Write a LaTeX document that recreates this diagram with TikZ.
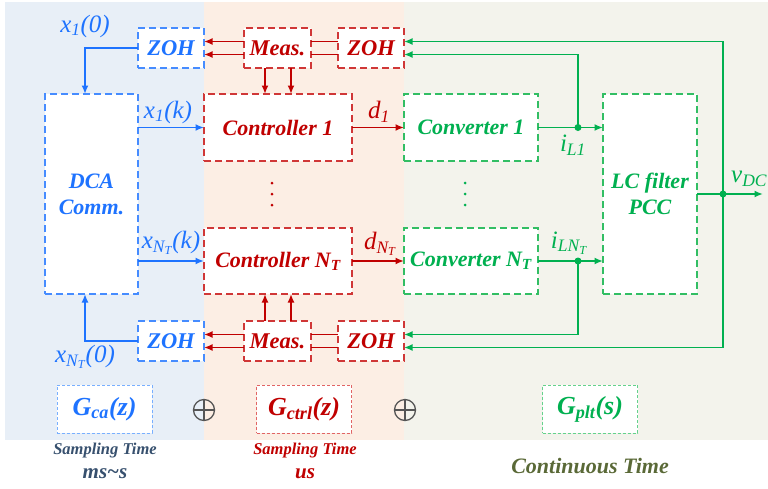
\documentclass[tikz,border=0pt]{standalone}
\usepackage{fontspec}
\setmainfont{Liberation Serif}
\usetikzlibrary{arrows.meta}
\definecolor{cblue}{RGB}{30,115,255}
\definecolor{cbluel}{RGB}{70,140,255}
\definecolor{cbluell}{RGB}{120,175,255}
\definecolor{cred}{RGB}{192,0,0}
\definecolor{credl}{RGB}{208,55,55}
\definecolor{credll}{RGB}{225,100,100}
\definecolor{cgreen}{RGB}{0,176,80}
\definecolor{cgreenl}{RGB}{50,190,100}
\definecolor{cgreenll}{RGB}{100,210,140}
\definecolor{bgblue}{RGB}{232,239,247}
\definecolor{bgred}{RGB}{252,238,228}
\definecolor{bggreen}{RGB}{243,243,236}
\definecolor{cslate}{RGB}{55,80,110}
\definecolor{colive}{RGB}{90,105,55}
\definecolor{cgrey}{RGB}{85,85,85}
\begin{document}
\begin{tikzpicture}[x=1pt,y=-1pt,
  blk/.style={draw, fill=white, dash pattern=on 7pt off 4pt, line width=1.3pt,
    font=\fontsize{22.5}{26}\selectfont\bfseries\itshape, inner sep=0pt, outer sep=0pt, align=center},
  bigtxt/.style={font=\fontsize{22}{26}\selectfont\bfseries\itshape},
  bblk/.style={blk, draw=cbluel, text=cblue},
  rblk/.style={blk, draw=credl, text=cred},
  gblk/.style={blk, draw=cgreenl, text=cgreen},
  leg/.style={draw, fill=white, dash pattern=on 3pt off 2pt, line width=0.8pt,
    minimum width=95pt, minimum height=48pt, inner sep=0pt,
    font=\fontsize{26}{28}\selectfont\bfseries\itshape},
  lbl/.style={font=\fontsize{25}{26}\selectfont\itshape, inner sep=0pt},
  conn/.style={line width=1.9pt},
  arr/.style={conn, -{Latex[length=8.5pt,width=7pt]}},
  barr/.style={arr, draw=cblue},
  rarr/.style={arr, draw=cred},
  rline/.style={conn, draw=cred},
  garr/.style={arr, draw=cgreen},
  zoh/.style={minimum width=66pt, minimum height=40pt},
  capt/.style={font=\fontsize{16.5}{18}\selectfont\bfseries\itshape, inner sep=0pt},
  capb/.style={font=\fontsize{21}{22}\selectfont\bfseries\itshape, inner sep=0pt},
  opl/.style={circle, draw=cgrey, line width=1.3pt, minimum size=21pt, inner sep=0pt, outer sep=0pt},
  oplx/.style={draw=cgrey, line width=1.3pt}
]
\useasboundingbox (0,0) rectangle (768,488);
% backgrounds
\fill[bgblue] (5,2) rectangle (204,440);
\fill[bgred] (204,2) rectangle (404,440);
\fill[bggreen] (404,2) rectangle (768,440);

% blue blocks
\node[bblk, zoh] (zohA) at (171,48) {ZOH};
\node[bblk, bigtxt, minimum width=93pt, minimum height=200pt] (dca) at (91.5,194) {DCA\\Comm.};
\node[bblk, zoh] (zohB) at (171,341) {ZOH};

% red blocks
\node[rblk, minimum width=67pt, minimum height=40pt] (measA) at (277.5,48) {Meas.};
\node[rblk, zoh] (zohC) at (371,48) {ZOH};
\node[rblk, bigtxt, minimum width=148pt, minimum height=67pt] (ctrl1) at (278,127.5) {Controller 1};
\node[rblk, bigtxt, minimum width=148pt, minimum height=66pt] (ctrlN) at (278,261) {Controller N\textsubscript{T}};
\node[rblk, minimum width=67pt, minimum height=40pt] (measB) at (277.5,341) {Meas.};
\node[rblk, zoh] (zohD) at (371,341) {ZOH};

% green blocks
\node[gblk, bigtxt, minimum width=134pt, minimum height=67pt] (conv1) at (471,127.5) {Converter 1};
\node[gblk, bigtxt, minimum width=134pt, minimum height=66pt] (convN) at (471,261) {Converter N\textsubscript{T}};
\node[gblk, bigtxt, minimum width=94pt, minimum height=200pt] (lc) at (650,194) {LC filter\\PCC};

% blue connectors
\draw[barr] (zohA.west) -| ([xshift=-6.5pt]dca.north);
\draw[barr] (zohB.west) -| ([xshift=-6.5pt]dca.south);
\draw[barr] (ctrl1.west -| dca.east) -- (ctrl1.west);
\draw[barr] (ctrlN.west -| dca.east) -- (ctrlN.west);
\node[lbl, text=cblue] (lx10) at (85,26) {x\textsubscript{1}(0)};
\node[lbl, text=cblue] (lx1k) at (168,112) {x\textsubscript{1}(k)};
\node[lbl, text=cblue] (lxNk) at (171,243) {x\textsubscript{N\textsubscript{T}}(k)};
\node[lbl, text=cblue] (lxN0) at (85,357) {x\textsubscript{N\textsubscript{T}}(0)};

% red connectors
\draw[rarr] ([yshift=6.5pt]measA.west) -- ([yshift=6.5pt]zohA.east);
\draw[rarr] ([yshift=-6.5pt]measA.west) -- ([yshift=-6.5pt]zohA.east);
\draw[rline] ([yshift=6.5pt]zohC.west) -- ([yshift=6.5pt]measA.east);
\draw[rline] ([yshift=-6.5pt]zohC.west) -- ([yshift=-6.5pt]measA.east);
\draw[rarr] ([xshift=-12.5pt]measA.south) -- ([xshift=-12.5pt]measA.south |- ctrl1.north);
\draw[rarr] ([xshift=13.5pt]measA.south) -- ([xshift=13.5pt]measA.south |- ctrl1.north);
\draw[rarr] ([yshift=6.5pt]measB.west) -- ([yshift=6.5pt]zohB.east);
\draw[rarr] ([yshift=-6.5pt]measB.west) -- ([yshift=-6.5pt]zohB.east);
\draw[rline] ([yshift=6.5pt]zohD.west) -- ([yshift=6.5pt]measB.east);
\draw[rline] ([yshift=-6.5pt]zohD.west) -- ([yshift=-6.5pt]measB.east);
\draw[rarr] ([xshift=-12.5pt]measB.north) -- ([xshift=-12.5pt]measB.north |- ctrlN.south);
\draw[rarr] ([xshift=13.5pt]measB.north) -- ([xshift=13.5pt]measB.north |- ctrlN.south);
\draw[rarr] (ctrl1.east) -- (conv1.west);
\draw[rarr] (ctrlN.east) -- (convN.west);
\node[lbl, text=cred] (ld1) at (379,112) {d\textsubscript{1}};
\node[lbl, text=cred] (ldN) at (380,244) {d\textsubscript{N\textsubscript{T}}};
\foreach \yy in {183,194,205} \fill[cred] (272,\yy) circle (1.5pt);
\foreach \yy in {183,194,205} \fill[cgreen] (465,\yy) circle (1.5pt);

% green connectors
\coordinate (j1) at (578,127.5);
\coordinate (jN) at (578,261);
\coordinate (vj) at (723,194);
\coordinate (vout) at (763,194);
\draw[garr] (conv1.east) -- (lc.west |- conv1.east);
\draw[garr] (convN.east) -- (lc.west |- convN.east);
\draw[garr] (j1) |- ([yshift=-6.5pt]zohC.east);
\draw[garr] (jN) |- ([yshift=6.5pt]zohD.east);
\draw[garr] (vj) |- ([yshift=6.5pt]zohC.east);
\draw[garr] (vj) |- ([yshift=-6.5pt]zohD.east);
\draw[garr] (lc.east) -- (vout);
\fill[cgreen] (j1) circle (3.5pt);
\fill[cgreen] (jN) circle (3.5pt);
\fill[cgreen] (vj) circle (3.5pt);
\node[lbl, text=cgreen] (li1) at (573,145) {i\textsubscript{L1}};
\node[lbl, text=cgreen] (liN) at (569,243) {i\textsubscript{LN\textsubscript{T}}};
\node[lbl, text=cgreen, anchor=west] (lv) at (731,179) {v\textsubscript{DC}};

% legend
\node[leg, draw=cbluell, text=cblue] (gca) at (104.5,409) {G\textsubscript{ca}(z)};
\node[leg, draw=credll, text=cred] (gctrl) at (304,409) {G\textsubscript{ctrl}(z)};
\node[leg, draw=cgreenll, text=cgreen] (gplt) at (590,409) {G\textsubscript{plt}(s)};
\node[opl] (op1) at (204,410) {};
\draw[oplx] (op1.north) -- (op1.south) (op1.west) -- (op1.east);
\node[opl] (op2) at (405,410) {};
\draw[oplx] (op2.north) -- (op2.south) (op2.west) -- (op2.east);
\node[capt, text=cslate] (st1) at (105,451) {Sampling Time};
\node[capb, text=cslate] (ms) at (105,474) {ms\textasciitilde s};
\node[capt, text=cred] (st2) at (305,451) {Sampling Time};
\node[capb, text=cred] (us) at (305,474) {us};
\node[capb, text=colive, font=\fontsize{22}{24}\selectfont\bfseries\itshape] (ct) at (590,466) {Continuous Time};
\end{tikzpicture}
\end{document}
